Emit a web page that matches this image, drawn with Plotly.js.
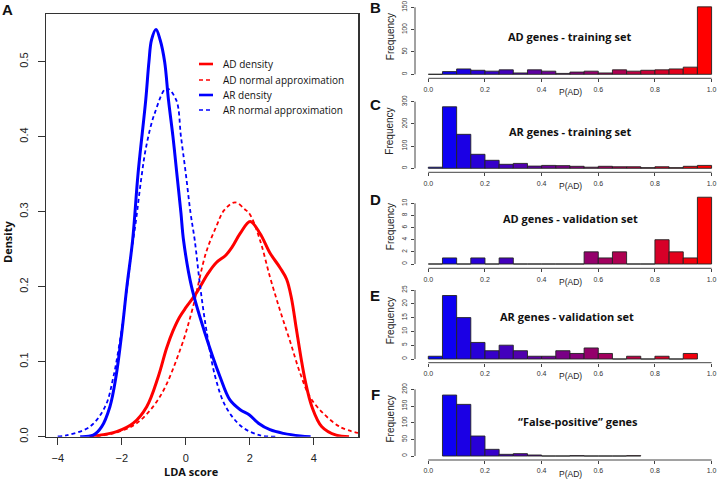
<!DOCTYPE html>
<html>
<head>
<meta charset="utf-8">
<script src="https://cdn.plot.ly/plotly-3.0.1.min.js"></script>
<style>
  html, body { margin: 0; padding: 0; background: #fff; }
  #chart { width: 720px; height: 479px; }
</style>
</head>
<body>
<div id="chart"></div>
<script>
// Panel A - density curves (LDA score vs density)
var adDensX = [-3.0, -2.68, -2.16, -1.64, -1.22, -0.86, -0.6, -0.4, -0.2, 0.0, 0.26, 0.45, 0.7, 0.95, 1.25, 1.45, 1.7, 2.01, 2.32, 2.63, 2.95, 3.15, 3.3, 3.45, 3.6, 3.73, 3.94, 4.25, 4.7, 5.1];
var adDensY = [0, 0.002, 0.0067, 0.018, 0.04, 0.08, 0.118, 0.141, 0.159, 0.172, 0.187, 0.2, 0.218, 0.232, 0.242, 0.253, 0.271, 0.287, 0.271, 0.245, 0.225, 0.21, 0.185, 0.145, 0.105, 0.075, 0.04, 0.0133, 0.002, 0];

var adNormX = [-3.0, -2.8, -2.3, -1.55, -0.82, -0.15, 0.22, 0.63, 0.95, 1.2, 1.54, 1.85, 2.01, 2.32, 2.63, 2.94, 3.26, 3.57, 3.88, 4.3, 4.82, 5.38];
var adNormY = [0.0005, 0.001, 0.004, 0.0175, 0.0525, 0.119, 0.172, 0.245, 0.28, 0.302, 0.3125, 0.303, 0.296, 0.262, 0.213, 0.169, 0.127, 0.085, 0.053, 0.031, 0.013, 0.005];

var arDensX = [-3.3, -2.89, -2.63, -2.37, -2.18, -2.0, -1.84, -1.66, -1.49, -1.25, -1.15, -1.07, -0.93, -0.8, -0.66, -0.54, -0.4, -0.28, -0.15, -0.07, 0.18, 0.6, 1.07, 1.38, 1.7, 1.99, 2.27, 2.63, 3.05, 3.58, 3.9];
var arDensY = [0, 0.002, 0.013, 0.04, 0.08, 0.138, 0.2, 0.262, 0.351, 0.449, 0.5, 0.529, 0.543, 0.529, 0.5, 0.449, 0.4, 0.351, 0.298, 0.262, 0.2, 0.138, 0.08, 0.049, 0.036, 0.029, 0.018, 0.0093, 0.0044, 0.001, 0];

var arNormX = [-4.0, -3.7, -3.0, -2.52, -2.26, -2.02, -1.86, -1.7, -1.55, -1.4, -1.24, -0.98, -0.6, -0.3, -0.15, 0.0, 0.15, 0.28, 0.45, 0.66, 0.92, 1.25, 1.75, 2.3, 2.8];
var arNormY = [0.0005, 0.002, 0.0133, 0.04, 0.08, 0.138, 0.19, 0.245, 0.29, 0.341, 0.386, 0.43, 0.4645, 0.449, 0.4, 0.351, 0.298, 0.262, 0.2, 0.138, 0.08, 0.04, 0.0133, 0.002, 0];

// Panels B-F - histograms of P(AD), bins of width 0.05
var binLeft = [0, 0.05, 0.1, 0.15, 0.2, 0.25, 0.3, 0.35, 0.4, 0.45, 0.5, 0.55, 0.6, 0.65, 0.7, 0.75, 0.8, 0.85, 0.9, 0.95];
var adTrain = [0, 6, 12, 9, 7, 10, 3, 10, 7, 2, 5, 7, 3, 10, 7, 9, 10, 12, 16, 151];
var arTrain = [5, 277, 153, 63, 36, 18, 22, 10, 13, 12, 9, 5, 9, 7, 7, 3, 7, 3, 9, 13];
var adValid = [0, 1, 0, 1, 0, 1, 0, 0, 0, 0, 0, 2, 1, 2, 0, 0, 4, 2, 1, 11];
var arValid = [1, 23, 15, 6, 3, 5, 3, 1, 1, 3, 2, 4, 2, 0, 1, 0, 1, 0, 2, null];
var falsePos = [null, 183, 155, 60, 20, 5, 7, 3, 0, 0, 1, 0, 0, 0, 1, null, null, null, null, null];

var panels = [
  {letter: 'B', title: 'AD genes - training set', counts: adTrain, yticks: [0, 50, 100, 150], base: 74.3, line: 78.3, ppu: 0.4467, top: 4, tx: 569, ty: 36.7, ly: 7.7},
  {letter: 'C', title: 'AR genes - training set', counts: arTrain, yticks: [0, 100, 200, 300], base: 168.3, line: 172.3, ppu: 0.222, top: 99, tx: 570, ty: 131, ly: 104},
  {letter: 'D', title: 'AD genes - validation set', counts: adValid, yticks: [0, 2, 4, 6, 8, 10], base: 264, line: 268.3, ppu: 6.07, top: 194, tx: 570, ty: 218.3, ly: 199.5},
  {letter: 'E', title: 'AR genes - validation set', counts: arValid, yticks: [0, 5, 10, 15, 20, 25], base: 359, line: 362.7, ppu: 2.76, top: 288, tx: 567, ty: 316.7, ly: 295},
  {letter: 'F', title: '\u201cFalse-positive\u201d genes', counts: falsePos, yticks: [0, 50, 100, 150, 200], base: 456, line: 460, ppu: 0.333, top: 387, tx: 578, ty: 421.7, ly: 394.3}
];

var W = 720, H = 479;
function px(x) { return x / W; }
function py(y) { return 1 - y / H; }

var tickFont = {family: 'Liberation Sans, Arial, sans-serif', size: 11, color: '#222'};
var smallFont = {family: 'Liberation Sans, Arial, sans-serif', size: 6.5, color: '#333'};

var data = [
  {x: adDensX, y: adDensY, mode: 'lines', line: {color: '#ff0000', width: 3, shape: 'spline'}, name: 'AD density', xaxis: 'x', yaxis: 'y'},
  {x: adNormX, y: adNormY, mode: 'lines', line: {color: '#ff0000', width: 1.8, dash: '4px,3px', shape: 'spline'}, name: 'AD normal approximation', xaxis: 'x', yaxis: 'y'},
  {x: arDensX, y: arDensY, mode: 'lines', line: {color: '#0000ff', width: 3, shape: 'spline'}, name: 'AR density', xaxis: 'x', yaxis: 'y'},
  {x: arNormX, y: arNormY, mode: 'lines', line: {color: '#0000ff', width: 1.8, dash: '4px,3px', shape: 'spline'}, name: 'AR normal approximation', xaxis: 'x', yaxis: 'y'}
];

var binColors = binLeft.map(function (b, i) {
  var t = i / (binLeft.length - 1);
  return 'rgb(' + Math.round(255 * t) + ',0,' + Math.round(255 * (1 - t)) + ')';
});
var binMid = binLeft.map(function (b) { return b + 0.025; });

var layout = {
  width: W, height: H,
  margin: {l: 0, r: 0, t: 0, b: 0},
  paper_bgcolor: '#fff', plot_bgcolor: 'rgba(0,0,0,0)',
  showlegend: false,
  xaxis: {
    domain: [px(46), px(358)], range: [-4.366, 5.38], anchor: 'y',
    tickvals: [-4, -2, 0, 2, 4], ticks: 'outside', ticklen: 7, tickcolor: '#333',
    showline: true, mirror: true, linecolor: '#333', linewidth: 1.5,
    showgrid: false, zeroline: false, tickfont: tickFont, ticklabelstandoff: 4
  },
  yaxis: {
    domain: [py(436.7), py(14)], range: [0, 0.5636], anchor: 'x',
    tickvals: [0, 0.1, 0.2, 0.3, 0.4, 0.5], ticktext: ['0.0', '0.1', '0.2', '0.3', '0.4', '0.5'],
    ticks: 'outside', ticklen: 7, tickcolor: '#333', tickangle: -90,
    showline: true, mirror: true, linecolor: '#333', linewidth: 1.5,
    showgrid: false, zeroline: false, tickfont: tickFont, ticklabelstandoff: 5
  },
  shapes: [],
  annotations: [
    {text: '<b>A</b>', x: px(7.5), y: py(9.5), xref: 'paper', yref: 'paper', showarrow: false, xanchor: 'center', yanchor: 'middle', font: {family: 'Liberation Sans, Arial', size: 15, color: '#111'}},
    {text: '<b>LDA score</b>', x: px(191.7), y: py(471), xref: 'paper', yref: 'paper', showarrow: false, xanchor: 'center', yanchor: 'middle', font: {family: 'Open Sans', size: 11, color: '#111'}},
    {text: '<b>Density</b>', x: px(8), y: py(242), xref: 'paper', yref: 'paper', showarrow: false, textangle: -90, xanchor: 'center', yanchor: 'middle', font: {family: 'Open Sans', size: 11, color: '#111'}}
  ]
};

// legend of panel A, drawn by hand to keep R's compact spacing
var legendRows = [
  {label: 'AD density', color: '#ff0000', dash: 'solid', width: 2.6, y: 64},
  {label: 'AD normal approximation', color: '#ff0000', dash: '4px,3px', width: 1.6, y: 80},
  {label: 'AR density', color: '#0000ff', dash: 'solid', width: 2.6, y: 95},
  {label: 'AR normal approximation', color: '#0000ff', dash: '4px,3px', width: 1.6, y: 110}
];
legendRows.forEach(function (r) {
  layout.shapes.push({type: 'line', xref: 'paper', yref: 'paper', x0: px(199), x1: px(213), y0: py(r.y), y1: py(r.y),
    line: {color: r.color, width: r.width, dash: r.dash}});
  layout.annotations.push({text: r.label, x: px(220.5), y: py(r.y), xref: 'paper', yref: 'paper', showarrow: false,
    xanchor: 'left', yanchor: 'middle', font: {family: 'Open Sans', size: 10, color: '#111'}});
});

panels.forEach(function (p, k) {
  var n = k + 2;
  var xa = 'xaxis' + n, ya = 'yaxis' + n, xr = 'x' + n, yr = 'y' + n;
  data.push({
    type: 'bar', x: binMid, y: p.counts, width: 0.05, xaxis: xr, yaxis: yr,
    marker: {color: binColors, line: {color: '#222', width: 0.9}}, name: p.title
  });
  layout[xa] = {
    domain: [px(415), 1], range: [-0.047, 1.0297], anchor: yr,
    tickvals: [0, 0.2, 0.4, 0.6, 0.8, 1.0], ticktext: ['0.0', '0.2', '0.4', '0.6', '0.8', '1.0'],
    ticks: 'outside', ticklen: 3, tickcolor: '#444', showline: false, showgrid: false, zeroline: false,
    tickfont: {family: 'Liberation Sans, Arial, sans-serif', size: 7, color: '#333'}, ticklabelstandoff: 1
  };
  layout[ya] = {
    domain: [py(p.line), py(p.top)], range: [-(p.line - p.base) / p.ppu, (p.base - p.top) / p.ppu], anchor: xr,
    tickvals: p.yticks, ticks: 'outside', ticklen: 3, tickcolor: '#444', tickangle: -90,
    showline: false, showgrid: false, zeroline: false, tickfont: smallFont, ticklabelstandoff: 1
  };
  // R style axis lines, running only between the first and last tick
  layout.shapes.push({type: 'line', xref: xr + ' domain', yref: yr, x0: 0, x1: 0, y0: p.yticks[0], y1: p.yticks[p.yticks.length - 1], line: {color: '#444', width: 1}});
  layout.shapes.push({type: 'line', xref: xr, yref: yr + ' domain', x0: 0, x1: 1, y0: 0, y1: 0, line: {color: '#444', width: 1}});
  layout.annotations.push(
    {text: '<b>' + p.letter + '</b>', x: px(375), y: py(p.ly), xref: 'paper', yref: 'paper', showarrow: false, xanchor: 'center', yanchor: 'middle', font: {family: 'Liberation Sans, Arial', size: 15, color: '#111'}},
    {text: '<b>' + p.title + '</b>', x: px(p.tx), y: py(p.ty), xref: 'paper', yref: 'paper', showarrow: false, xanchor: 'center', yanchor: 'middle', font: {family: 'Open Sans', size: 11, color: '#111'}},
    {text: 'Frequency', x: px(390), y: py((p.line + p.top) / 2 - 4), xref: 'paper', yref: 'paper', showarrow: false, textangle: -90, xanchor: 'center', yanchor: 'middle', font: {family: 'Liberation Sans, Arial', size: 10, color: '#222'}},
    {text: 'P(AD)', x: px(570), y: py(p.line + 13.5), xref: 'paper', yref: 'paper', showarrow: false, xanchor: 'center', yanchor: 'middle', font: {family: 'Liberation Sans, Arial', size: 8.5, color: '#222'}}
  );
});

Plotly.newPlot('chart', data, layout, {staticPlot: true});
</script>
</body>
</html>
